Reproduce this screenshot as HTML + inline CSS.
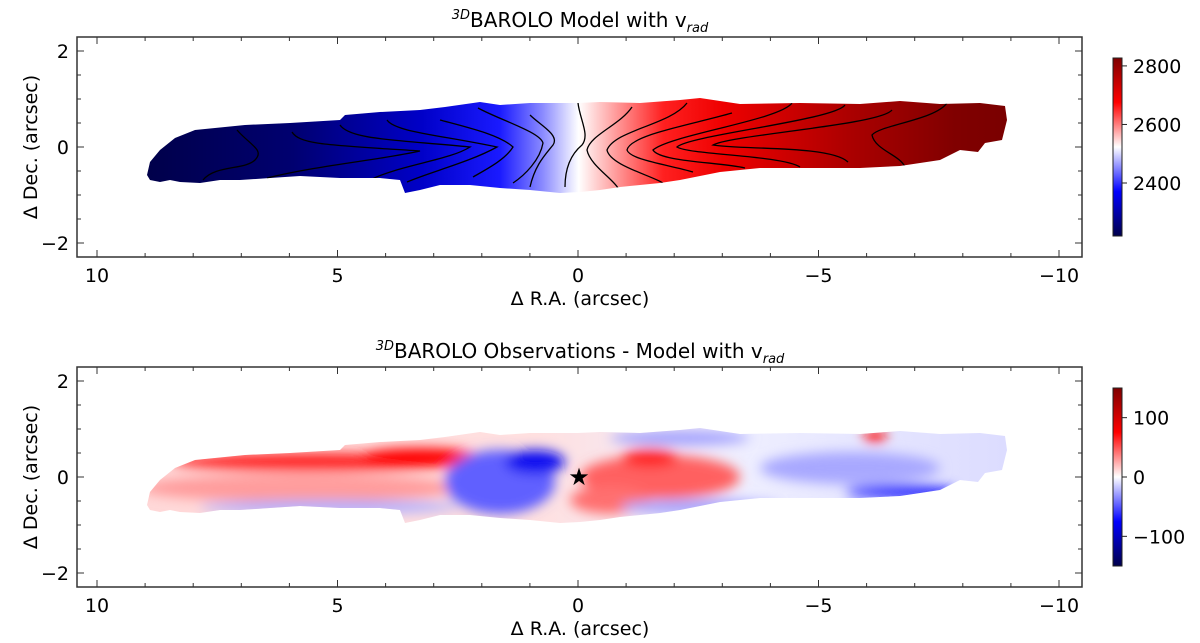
<!DOCTYPE html>
<html><head><meta charset="utf-8"><style>
body{margin:0;background:#fff;}
svg{display:block;font-family:"DejaVu Sans","Liberation Sans",sans-serif;}
</style></head><body>
<svg id="fig" width="1200" height="643" viewBox="0 0 1200 643">
<defs>
<linearGradient id="velgrad" gradientUnits="userSpaceOnUse" x1="147" y1="0" x2="1007" y2="0">
<stop offset="0" stop-color="#00004a"/><stop offset="0.17" stop-color="#000070"/>
<stop offset="0.32" stop-color="#0000c8"/><stop offset="0.41" stop-color="#1a1aff"/>
<stop offset="0.46" stop-color="#8a8aff"/><stop offset="0.502" stop-color="#ffffff"/>
<stop offset="0.55" stop-color="#ff9090"/><stop offset="0.6" stop-color="#ff2020"/>
<stop offset="0.67" stop-color="#ee0000"/><stop offset="0.82" stop-color="#aa0000"/>
<stop offset="0.94" stop-color="#800000"/><stop offset="1" stop-color="#7a0000"/>
</linearGradient>
<linearGradient id="cbgrad" x1="0" y1="0" x2="0" y2="1">
<stop offset="0" stop-color="#7f0000"/><stop offset="0.25" stop-color="#ff0000"/>
<stop offset="0.5" stop-color="#ffffff"/><stop offset="0.75" stop-color="#0000ff"/>
<stop offset="1" stop-color="#00004c"/>
</linearGradient>
<linearGradient id="resbg" gradientUnits="userSpaceOnUse" x1="147" y1="0" x2="1007" y2="0">
<stop offset="0" stop-color="#ffd8d8"/><stop offset="0.45" stop-color="#ffe0e0"/>
<stop offset="0.7" stop-color="#eeeeff"/><stop offset="1" stop-color="#dcdcff"/>
</linearGradient>
<clipPath id="gal1"><path d="M147,175 L150,162 L160,150 L175,138 L195,130 L215,128 L245,125 L290,123 L340,120 L345,115 L380,112 L420,110 L445,107 L480,102 L500,105 L530,103 L578,103 L600,102 L640,103 L680,100 L700,98 L740,104 L800,103 L860,104 L900,101 L940,104 L980,103 L1005,106 L1007,120 L1002,140 L985,143 L978,152 L960,150 L940,160 L900,166 L860,168 L800,168 L760,168 L720,172 L700,176 L680,180 L660,183 L640,185 L620,187 L600,190 L580,192 L560,193 L530,190 L500,188 L470,185 L440,185 L420,190 L405,193 L400,180 L380,178 L340,178 L300,176 L270,178 L240,180 L220,180 L200,183 L180,182 L170,180 L160,182 L150,180 Z"/></clipPath>
<clipPath id="gal2"><path transform="translate(0,330)" d="M147,175 L150,162 L160,150 L175,138 L195,130 L215,128 L245,125 L290,123 L340,120 L345,115 L380,112 L420,110 L445,107 L480,102 L500,105 L530,103 L578,103 L600,102 L640,103 L680,100 L700,98 L740,104 L800,103 L860,104 L900,101 L940,104 L980,103 L1005,106 L1007,120 L1002,140 L985,143 L978,152 L960,150 L940,160 L900,166 L860,168 L800,168 L760,168 L720,172 L700,176 L680,180 L660,183 L640,185 L620,187 L600,190 L580,192 L560,193 L530,190 L500,188 L470,185 L440,185 L420,190 L405,193 L400,180 L380,178 L340,178 L300,176 L270,178 L240,180 L220,180 L200,183 L180,182 L170,180 L160,182 L150,180 Z"/></clipPath>
<filter id="blur" x="-20%" y="-50%" width="140%" height="200%"><feGaussianBlur stdDeviation="6"/></filter>
</defs>

<g>
<text x="580" y="27" text-anchor="middle" font-size="20"><tspan font-size="13" dy="-8" font-style="italic">3D</tspan><tspan dy="8">BAROLO Model with v</tspan><tspan font-size="13" dy="5" font-style="italic">rad</tspan></text>
<rect x="147" y="95" width="862" height="100" fill="url(#velgrad)" clip-path="url(#gal1)"/>
<g fill="none" stroke="#000" stroke-width="1.3" clip-path="url(#gal1)">
<path d="M237,130 C250,145 265,150 255,160 C245,170 215,165 203,180"/>
<path d="M292,132 C300,145 330,145 420,151 C380,160 320,165 267,178"/>
<path d="M340,125 C350,140 400,140 470,147 C450,160 400,165 370,180"/>
<path d="M387,120 C395,132 440,135 497,147 C470,162 430,172 407,182"/>
<path d="M440,120 C470,128 500,135 513,147 C505,160 485,170 473,177"/>
<path d="M478,108 C500,120 540,132 543,143 C540,160 525,175 513,183"/>
<path d="M530,115 C540,125 560,135 553,145 C545,155 535,165 530,187"/>
<path d="M578,103 C580,120 590,135 582,145 C570,155 565,170 565,187"/>
<path d="M632,107 C620,125 590,135 587,150 C590,165 612,178 618,188"/>
<path d="M687,103 C670,125 615,130 607,150 C610,165 650,175 663,183"/>
<path d="M732,113 C690,125 630,135 627,150 C630,160 670,165 693,172"/>
<path d="M792,103 C780,120 670,135 653,150 C660,162 720,162 745,168"/>
<path d="M845,105 C835,120 690,135 677,147 C690,155 780,155 800,167"/>
<path d="M892,110 C880,125 730,135 713,145 C740,150 830,145 848,162"/>
<path d="M947,103 C935,120 880,125 872,135 C875,150 900,155 905,167"/>
</g>
</g>

<g>
<text x="580" y="358" text-anchor="middle" font-size="20"><tspan font-size="13" dy="-8" font-style="italic">3D</tspan><tspan dy="8">BAROLO Observations - Model with v</tspan><tspan font-size="13" dy="5" font-style="italic">rad</tspan></text>
<g clip-path="url(#gal2)">
<rect x="140" y="425" width="880" height="100" fill="url(#resbg)"/>
<g filter="url(#blur)">
<ellipse cx="300" cy="488" rx="160" ry="14" fill="#ff9c9c"/>
<ellipse cx="320" cy="462" rx="150" ry="9" fill="#ff2020"/>
<ellipse cx="420" cy="457" rx="60" ry="9" fill="#ff0000"/>
<ellipse cx="330" cy="507" rx="130" ry="7" fill="#b0b0ff"/>
<ellipse cx="500" cy="482" rx="55" ry="32" fill="#6060ff"/>
<ellipse cx="535" cy="462" rx="30" ry="12" fill="#1010f0"/>
<ellipse cx="660" cy="477" rx="80" ry="22" fill="#ff6060"/>
<ellipse cx="650" cy="458" rx="28" ry="9" fill="#ff2020"/>
<ellipse cx="610" cy="500" rx="40" ry="14" fill="#ff7070"/>
<ellipse cx="700" cy="507" rx="80" ry="8" fill="#a8a8ff"/>
<ellipse cx="680" cy="438" rx="70" ry="7" fill="#a0a0ff"/>
<ellipse cx="850" cy="468" rx="90" ry="16" fill="#a8a8ff"/>
<ellipse cx="900" cy="491" rx="55" ry="6" fill="#0000ff"/>
<ellipse cx="875" cy="436" rx="12" ry="6" fill="#ff1010"/>
</g>
</g>
<text x="579" y="485" text-anchor="middle" font-size="24">★</text>
</g>

<g id="axes"></g>
</svg>
<script>
const xTicks=[10,5,0,-5,-10];
const yTicks=[-2,0,2];
const cb1Ticks=[2400,2600,2800];
const cb1Range=[2219,2827];
const cb2Ticks=[-100,0,100];
const cb2Range=[-150,150];
const panels=[{top:37,bottom:257,y0:147},{top:367,bottom:587,y0:477}];
const NS='http://www.w3.org/2000/svg';
const L=77,R=1082;
const xs=v=>578-v*48.1;
const g=document.getElementById('axes');
function mk(tag,attrs,parent,text){const e=document.createElementNS(NS,tag);for(const k in attrs)e.setAttribute(k,attrs[k]);if(text!==undefined)e.textContent=text;(parent||g).appendChild(e);return e;}
panels.forEach((p,i)=>{
  const ys=v=>p.y0-v*48;
  const fr=mk('rect',{x:L,y:p.top,width:R-L,height:p.bottom-p.top,fill:'none',stroke:'#333','stroke-width':1.5});
  
  
  for(let v=-10;v<=10;v++){const x=xs(v);const len=xTicks.includes(v)?7:4;
    mk('line',{x1:x,x2:x,y1:p.bottom,y2:p.bottom-len,stroke:'#333'});
    mk('line',{x1:x,x2:x,y1:p.top,y2:p.top+len,stroke:'#333'});}
  for(let v=-2;v<=2.01;v+=0.5){const y=ys(v);const len=yTicks.includes(v)?7:4;
    mk('line',{x1:L,x2:L+len,y1:y,y2:y,stroke:'#333'});
    mk('line',{x1:R,x2:R-len,y1:y,y2:y,stroke:'#333'});}
  xTicks.forEach(v=>{const t=mk('text',{x:xs(v),y:p.bottom+25,'text-anchor':'middle','font-size':19},g,(v<0?'\u2212'+(-v):String(v)));
    
    });
  yTicks.forEach(v=>{const t=mk('text',{x:L-8,y:ys(v)+7,'text-anchor':'end','font-size':19},g,(v<0?'\u2212'+(-v):String(v)));
    
    });
  const xl=mk('text',{x:580,y:p.bottom+48,'text-anchor':'middle','font-size':19},g,'\u0394 R.A. (arcsec)');
  
  
  const yl=mk('text',{x:0,y:0,'text-anchor':'middle','font-size':19,transform:`translate(37,${p.y0}) rotate(-90)`},g,'\u0394 Dec. (arcsec)');
  
  
  const ct=p.top+21,cbot=p.bottom-21;
  const ticks=i===0?cb1Ticks:cb2Ticks,rng=i===0?cb1Range:cb2Range;
  const cs=v=>cbot-(v-rng[0])/(rng[1]-rng[0])*(cbot-ct);
  const cb=mk('rect',{x:1113,y:ct,width:9,height:cbot-ct,fill:'url(#cbgrad)',stroke:'#222','stroke-width':1});
  
  
  ticks.forEach(v=>{const y=cs(v);mk('line',{x1:1122,x2:1127,y1:y,y2:y,stroke:'#222'});
    const t=mk('text',{x:1133,y:y+7,'font-size':19},g,(v<0?'\u2212'+(-v):String(v)));
    
    });
});
</script>
</body></html>
